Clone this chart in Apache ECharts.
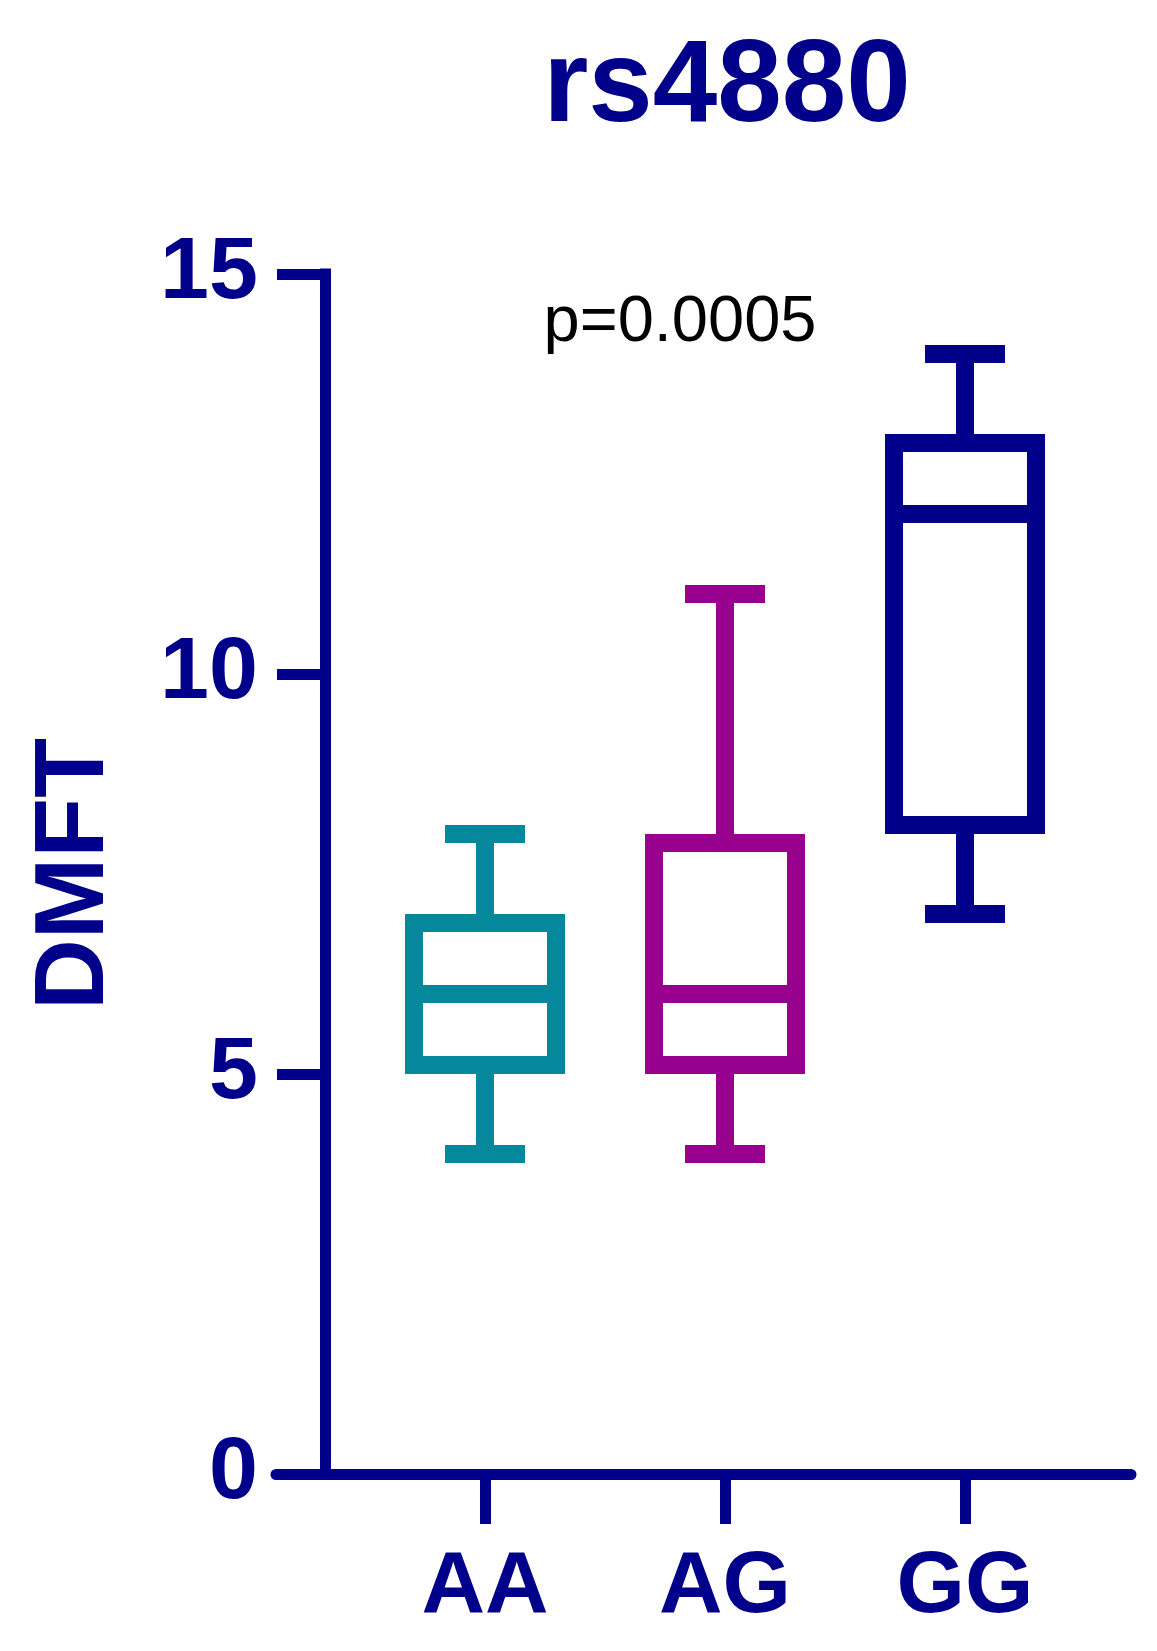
<!DOCTYPE html>
<html>
<head>
<meta charset="utf-8">
<script src="https://cdn.jsdelivr.net/npm/echarts@6/dist/echarts.min.js"></script>
<style>
  html, body { margin: 0; padding: 0; background: #fff; }
  #chart { width: 1157px; height: 1651px; }
</style>
</head>
<body>
<div id="chart"></div>
<script>
// genotype groups and DMFT box summaries
const categories = ['AA', 'AG', 'GG']
const mins = [4, 4, 7]
const q1s = [5, 5, 8]
const medians = [6, 6, 12]
const q3s = [7, 8, 13]
const maxes = [8, 11, 14]
const yTicks = [0, 5, 10, 15]
const pText = 'p=0.0005'

const navy = '#00008b'
const boxColors = ['#05889c', '#98008e', '#00008b']
const font = 'Liberation Sans, Arial, sans-serif'

const boxData = categories.map((c, i) => [i, mins[i], q1s[i], medians[i], q3s[i], maxes[i]])

const chart = echarts.init(document.getElementById('chart'))

const option = {
  backgroundColor: '#fff',
  animation: false,
  title: [
    {
      text: 'rs4880',
      left: 722,
      top: 26,
      textAlign: 'center',
      textStyle: { color: navy, fontSize: 116, fontWeight: 'bold', fontFamily: font }
    },
    {
      text: pText,
      left: 675,
      top: 286,
      textAlign: 'center',
      textStyle: { color: '#000', fontSize: 65, fontWeight: 'normal', fontFamily: font }
    }
  ],
  grid: [
    { left: 365, right: 72, top: 274, bottom: 177 },
    { left: 276, right: 26, top: 274, bottom: 177 }
  ],
  xAxis: [
    {
      type: 'category',
      gridIndex: 0,
      data: categories,
      boundaryGap: true,
      axisLine: { show: false },
      axisTick: { show: true, alignWithLabel: true, length: 50, lineStyle: { color: navy, width: 11 } },
      axisLabel: { margin: 70, color: navy, fontSize: 88, fontWeight: 'bold', fontFamily: font },
      splitLine: { show: false }
    },
    {
      type: 'value',
      gridIndex: 1,
      min: 0,
      max: 1,
      axisLine: { show: true, lineStyle: { color: navy, width: 11 } },
      axisTick: { show: false },
      axisLabel: { show: false },
      splitLine: { show: false }
    }
  ],
  yAxis: [
    {
      type: 'value',
      gridIndex: 0,
      min: yTicks[0],
      max: yTicks[yTicks.length - 1],
      interval: 5,
      offset: 40,
      name: 'DMFT',
      nameLocation: 'middle',
      nameRotate: 90,
      nameGap: 200,
      nameTextStyle: { color: navy, fontSize: 98, fontWeight: 'bold', fontFamily: font },
      axisLine: { show: true, lineStyle: { color: navy, width: 11, cap: 'square' } },
      axisTick: { show: true, length: 48, lineStyle: { color: navy, width: 11 } },
      axisLabel: { margin: 67, color: navy, fontSize: 88, fontWeight: 'bold', fontFamily: font },
      splitLine: { show: false }
    },
    {
      type: 'value',
      gridIndex: 1,
      min: 0,
      max: 1,
      show: false
    }
  ],
  series: [
    {
      type: 'custom',
      xAxisIndex: 0,
      yAxisIndex: 0,
      data: boxData,
      encode: { x: 0, y: [1, 2, 3, 4, 5] },
      renderItem: function (params, api) {
        const idx = api.value(0)
        const x = api.coord([idx, 0])[0]
        const band = api.size([1, 0])[0]
        const boxW = band * 2 / 3
        const capW = band / 3
        const lw = 18
        const yMin = api.coord([idx, api.value(1)])[1]
        const yQ1 = api.coord([idx, api.value(2)])[1]
        const yMed = api.coord([idx, api.value(3)])[1]
        const yQ3 = api.coord([idx, api.value(4)])[1]
        const yMax = api.coord([idx, api.value(5)])[1]
        const color = boxColors[params.dataIndex]
        const stroke = { stroke: color, lineWidth: lw, fill: null, lineCap: 'butt' }
        const half = boxW / 2 - lw / 2
        return {
          type: 'group',
          children: [
            // upper whisker + cap
            { type: 'line', shape: { x1: x, y1: yMax, x2: x, y2: yQ3 }, style: stroke },
            { type: 'line', shape: { x1: x - capW / 2, y1: yMax, x2: x + capW / 2, y2: yMax }, style: stroke },
            // lower whisker + cap
            { type: 'line', shape: { x1: x, y1: yQ1, x2: x, y2: yMin }, style: stroke },
            { type: 'line', shape: { x1: x - capW / 2, y1: yMin, x2: x + capW / 2, y2: yMin }, style: stroke },
            // box, stroke drawn inside the quartile edges
            {
              type: 'rect',
              shape: { x: x - half, y: yQ3 + lw / 2, width: half * 2, height: yQ1 - yQ3 - lw },
              style: { stroke: color, lineWidth: lw, fill: '#fff' }
            },
            // median
            { type: 'line', shape: { x1: x - half, y1: yMed, x2: x + half, y2: yMed }, style: stroke }
          ]
        }
      }
    }
  ]
}

chart.setOption(option)
</script>
</body>
</html>
